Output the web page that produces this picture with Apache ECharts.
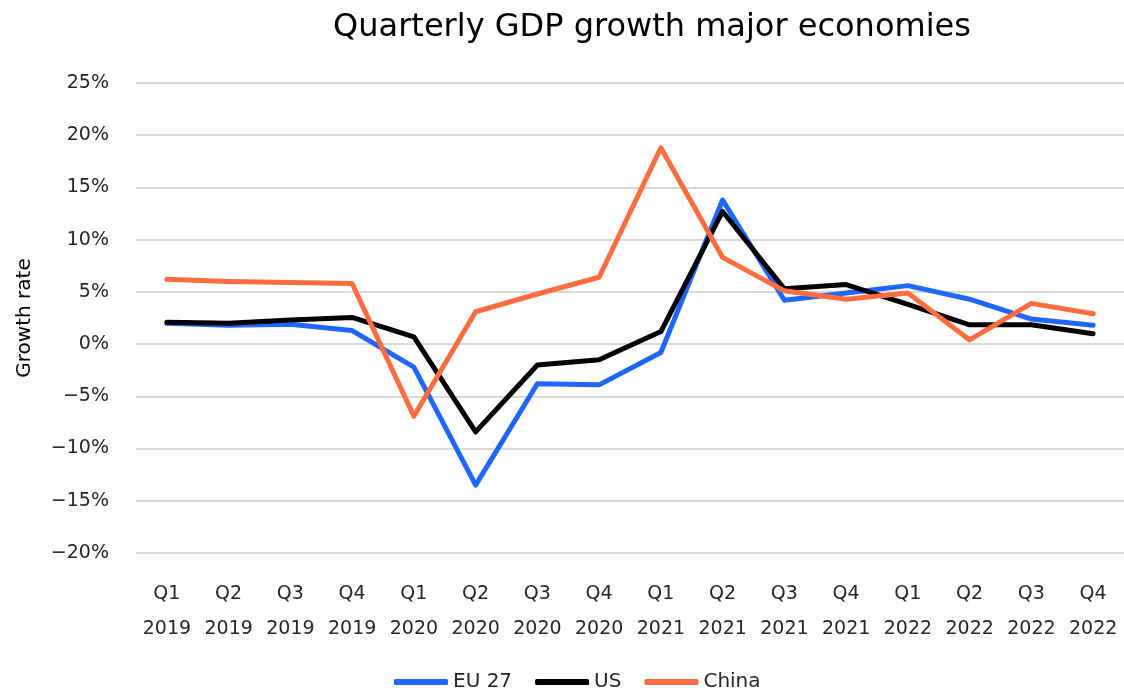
<!DOCTYPE html>
<html>
<head>
<meta charset="utf-8">
<script src="https://cdn.jsdelivr.net/npm/echarts@6/dist/echarts.min.js"></script>
<style>
  html, body { margin: 0; padding: 0; background: #fff; }
  #chart { width: 1124px; height: 693px; }
</style>
</head>
<body>
<div id="chart"></div>
<script>
// Quarterly GDP growth (%), Q1 2019 – Q4 2022
const quarters = [
  'Q1\n2019', 'Q2\n2019', 'Q3\n2019', 'Q4\n2019',
  'Q1\n2020', 'Q2\n2020', 'Q3\n2020', 'Q4\n2020',
  'Q1\n2021', 'Q2\n2021', 'Q3\n2021', 'Q4\n2021',
  'Q1\n2022', 'Q2\n2022', 'Q3\n2022', 'Q4\n2022'
];
const eu27 = [2.0, 1.8, 1.9, 1.3, -2.2, -13.5, -3.8, -3.9, -0.8, 13.8, 4.2, 4.9, 5.6, 4.3, 2.4, 1.8];
const us = [2.1, 2.0, 2.3, 2.55, 0.7, -8.4, -2.0, -1.5, 1.2, 12.7, 5.3, 5.7, 3.8, 1.85, 1.85, 1.0];
const china = [6.2, 6.0, 5.9, 5.8, -6.9, 3.1, 4.8, 6.4, 18.8, 8.3, 5.1, 4.3, 4.9, 0.4, 3.9, 2.9];
const yTicks = { min: -20, max: 25, interval: 5 };

const FONT = '"DejaVu Sans", sans-serif';
const TEXT = '#262626';

const chart = echarts.init(document.getElementById('chart'), null, { renderer: 'canvas' });

function lineSeries(name, data, color) {
  return {
    name: name,
    type: 'line',
    data: data,
    symbol: 'none',
    smooth: false,
    lineStyle: { color: color, width: 5, cap: 'round', join: 'round' },
    itemStyle: { color: color },
    emphasis: { disabled: true }
  };
}

chart.setOption({
  animation: false,
  backgroundColor: '#ffffff',
  title: {
    text: 'Quarterly GDP growth major economies',
    left: 647,
    top: 7,
    textAlign: 'center',
    textStyle: { fontFamily: FONT, fontSize: 32, fontWeight: 'normal', color: '#000' }
  },
  grid: { left: 136, right: 0, top: 83, bottom: 140, containLabel: false },
  legend: {
    bottom: 1,
    left: 394,
    padding: 0,
    icon: 'roundRect',
    itemWidth: 54,
    itemHeight: 6,
    itemGap: 23,
    textStyle: { fontFamily: FONT, fontSize: 20, color: TEXT },
    data: ['EU 27', 'US', 'China']
  },
  xAxis: {
    type: 'category',
    data: quarters,
    boundaryGap: true,
    axisLine: { show: false },
    axisTick: { show: false },
    axisLabel: {
      interval: 0,
      margin: 24,
      fontFamily: FONT,
      fontSize: 19,
      lineHeight: 35,
      color: TEXT
    }
  },
  yAxis: {
    type: 'value',
    min: yTicks.min,
    max: yTicks.max,
    interval: yTicks.interval,
    name: 'Growth rate',
    nameLocation: 'middle',
    nameGap: 101,
    nameTextStyle: { fontFamily: FONT, fontSize: 20, color: '#000' },
    axisLine: { show: false },
    axisTick: { show: false },
    axisLabel: {
      margin: 27,
      fontFamily: FONT,
      fontSize: 19,
      color: TEXT,
      formatter: function (v) { return (v < 0 ? '\u2212' + Math.abs(v) : v) + '%'; }
    },
    splitLine: { lineStyle: { color: '#d9d9d9', width: 2 } }
  },
  series: [
    lineSeries('EU 27', eu27, '#1f66ff'),
    lineSeries('US', us, '#000000'),
    lineSeries('China', china, '#ff6d3f')
  ]
});
</script>
</body>
</html>
